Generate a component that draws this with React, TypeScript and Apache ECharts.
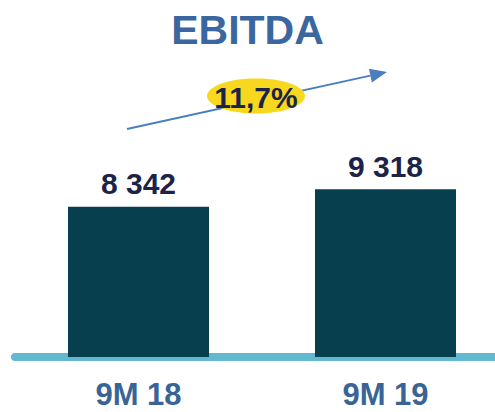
import React, { useEffect, useRef } from "react";
import * as echarts from "echarts";

const categories = ["9M 18", "9M 19"];
const ebitdaValues = [8342, 9318];
const valueLabels = ["8 342", "9 318"];
const growthLabel = "11,7%";
const titleText = "EBITDA";

const FONT = "'Liberation Sans', Arial, sans-serif";

export default function App() {
  const ref = useRef<HTMLDivElement>(null);
  useEffect(() => {
    if (!ref.current) return;
    const chart = echarts.init(ref.current, undefined, { renderer: "svg" });
    // arrow geometry
    const x1 = 127, y1 = 129, x2 = 387, y2 = 72;
    const dx = x2 - x1, dy = y2 - y1;
    const len = Math.sqrt(dx * dx + dy * dy);
    const ux = dx / len, uy = dy / len;
    const hl = 17, hw = 7;
    const bx = x2 - ux * hl, by = y2 - uy * hl;
    const px = -uy * hw, py = ux * hw;
    chart.setOption({
      animation: false,
      title: {
        text: titleText,
        left: "center",
        top: 4,
        textStyle: { fontFamily: FONT, fontSize: 41, fontWeight: "bold", color: "#3A67A0" },
      },
      grid: { left: 15, width: 494, top: 177, height: 180, outerBoundsMode: "none", containLabel: false },
      xAxis: {
        type: "category",
        data: categories,
        offset: 4,
        axisTick: { show: false },
        axisLine: { lineStyle: { color: "#62B8CE", width: 8 } },
        axisLabel: {
          fontFamily: FONT,
          fontSize: 31,
          lineHeight: 26,
          fontWeight: "bold",
          color: "#3A6496",
          margin: 20,
        },
      },
      yAxis: { type: "value", show: false, min: 0, max: 10000 },
      series: [
        {
          type: "bar",
          data: ebitdaValues,
          barWidth: 141,
          itemStyle: { color: "#073F4F" },
          label: {
            show: true,
            position: "top",
            distance: 8,
            formatter: (p: any) => valueLabels[p.dataIndex],
            fontFamily: FONT,
            fontSize: 30,
            fontWeight: "bold",
            color: "#1B2448",
          },
        },
      ],
      graphic: [
        {
          type: "line",
          shape: { x1, y1, x2: bx, y2: by },
          style: { stroke: "#4A7EC0", lineWidth: 2 },
        },
        {
          type: "polygon",
          shape: { points: [[x2, y2], [bx + px, by + py], [bx - px, by - py]] },
          style: { fill: "#4A7EC0" },
        },
        {
          type: "ellipse",
          shape: { cx: 256, cy: 96, rx: 49, ry: 17.5 },
          style: { fill: "#F8D81E" },
          z: 10,
        },
        {
          type: "text",
          x: 256,
          y: 97,
          z: 11,
          style: {
            text: growthLabel,
            fontFamily: FONT,
            fontSize: 30,
            fontWeight: "bold",
            fill: "#1B2448",
            align: "center",
            verticalAlign: "middle",
          },
        },
      ],
    });
    return () => chart.dispose();
  }, []);
  return (
    <div
      ref={ref}
      style={{ position: "fixed", left: 0, top: 0, width: 495, height: 412, background: "#fff" }}
    />
  );
}
